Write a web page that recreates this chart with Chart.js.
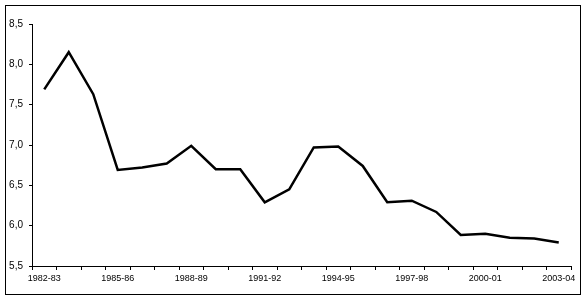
<!DOCTYPE html>
<html>
<head>
<meta charset="utf-8">
<script src="https://cdn.jsdelivr.net/npm/chart.js@4/dist/chart.umd.min.js"></script>
<style>
  html, body { margin: 0; padding: 0; background: #fff; }
  #wrap { position: relative; width: 586px; height: 300px; }
</style>
</head>
<body>
<div id="wrap"><canvas id="chart" width="586" height="300"></canvas></div>
<script>
// years
var years = ["1982-83", "1983-84", "1984-85", "1985-86", "1986-87", "1987-88", "1988-89",
  "1989-90", "1990-91", "1991-92", "1992-93", "1993-94", "1994-95", "1995-96", "1996-97",
  "1997-98", "1998-99", "1999-00", "2000-01", "2001-02", "2002-03", "2003-04"];
var values = [7.69, 8.15, 7.63, 6.69, 6.72, 6.77, 6.99, 6.70, 6.70, 6.29, 6.45,
  6.97, 6.98, 6.74, 6.29, 6.31, 6.17, 5.885, 5.90, 5.85, 5.84, 5.79];
var yMin = 5.5, yMax = 8.5, yStep = 0.5;

// frame round the whole picture
var framePlugin = {
  id: "frame",
  afterDraw: function (chart) {
    var ctx = chart.ctx;
    ctx.save();
    ctx.strokeStyle = "#000";
    ctx.lineWidth = 1;
    ctx.strokeRect(5.5, 5.5, 575, 289);
    ctx.restore();
  }
};

new Chart(document.getElementById("chart").getContext("2d"), {
  type: "line",
  data: {
    labels: years,
    datasets: [{
      data: values,
      borderColor: "#000",
      borderWidth: 2.5,
      pointRadius: 0,
      tension: 0,
      fill: false
    }]
  },
  options: {
    responsive: false,
    animation: false,
    layout: { padding: { left: 0, top: 24, right: 15, bottom: 0 } },
    plugins: { legend: { display: false }, tooltip: { enabled: false } },
    scales: {
      x: {
        offset: true,
        grid: { display: true, drawOnChartArea: false, drawTicks: true, tickLength: 4, color: "#000", offset: true },
        border: { color: "#000", width: 1 },
        ticks: {
          autoSkip: false,
          maxRotation: 0,
          color: "#000",
          padding: 3,
          font: { family: "Liberation Sans, Arial, sans-serif", size: 9 },
          callback: function (v, i) { return i % 3 === 0 ? years[i] : ""; }
        },
        afterFit: function (s) { s.height = 34; }
      },
      y: {
        min: yMin,
        max: yMax,
        grid: { display: true, drawOnChartArea: false, drawTicks: true, tickLength: 3, color: "#000" },
        border: { color: "#000", width: 1 },
        ticks: {
          stepSize: yStep,
          color: "#000",
          padding: 6,
          font: { family: "Liberation Sans, Arial, sans-serif", size: 10 },
          callback: function (v) { return v.toFixed(1).replace(".", ","); }
        },
        afterFit: function (s) { s.width = 32; }
      }
    }
  },
  plugins: [framePlugin]
});
</script>
</body>
</html>
